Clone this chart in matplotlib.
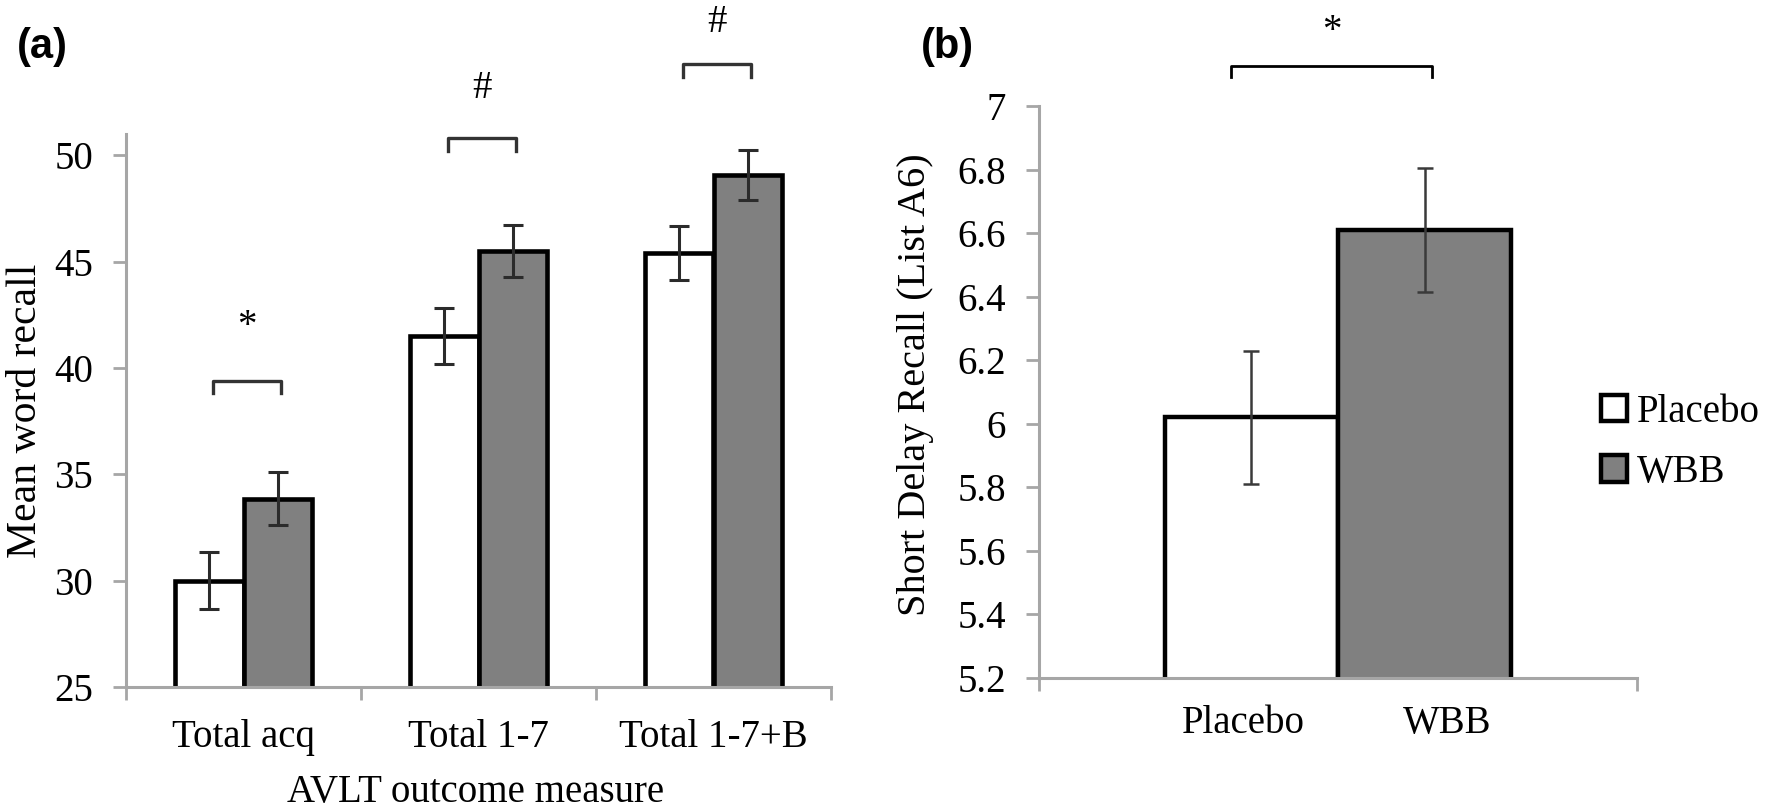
import matplotlib
matplotlib.use('Agg')
import matplotlib.pyplot as plt
import numpy as np
from matplotlib.patches import Patch

# ---------------- data ----------------
categories_a = ['Total acq', 'Total 1-7', 'Total 1-7+B']
placebo_a = [30.0, 41.5, 45.4]
placebo_a_err = [1.33, 1.3, 1.27]
wbb_a = [33.85, 45.5, 49.06]
wbb_a_err = [1.25, 1.21, 1.18]
sig_a = ['*', '#', '#']
bracket_a = [39.4, 50.8, 54.3]
sig_text_a = [41.5, 52.7, 55.8]
yticks_a = [25, 30, 35, 40, 45, 50]

groups_b = ['Placebo', 'WBB']
values_b = [6.02, 6.61]
errors_b = [0.21, 0.195]
sig_b = '*'
bracket_b = 7.125
sig_text_b = 7.205
yticks_b = [5.2, 5.4, 5.6, 5.8, 6.0, 6.2, 6.4, 6.6, 6.8, 7.0]
ytick_labels_b = ['5.2', '5.4', '5.6', '5.8', '6', '6.2', '6.4', '6.6', '6.8', '7']

# ---------------- style ----------------
SERIF = ['Liberation Serif', 'DejaVu Serif']
FS = 28
AXC = '#a6a6a6'
GREY = '#808080'
W, H = 1772, 808

plt.rcParams['font.family'] = SERIF
fig = plt.figure(figsize=(W / 100, H / 100), dpi=100)

def style_axes(ax):
    for s in ['top', 'right']:
        ax.spines[s].set_visible(False)
    for s in ['left', 'bottom']:
        ax.spines[s].set_color(AXC)
        ax.spines[s].set_linewidth(2.2)
    ax.tick_params(axis='both', which='major', direction='out', length=9.4,
                   width=2.0, color=AXC, labelsize=FS, pad=14.4)
    ax.tick_params(axis='x', which='minor', length=0, labelsize=FS)

# ---------------- panel (a) ----------------
ax = fig.add_axes([126 / W, 1 - 687 / H, 705 / W, 553 / H])
style_axes(ax)
bw = 0.29
xa = np.arange(len(categories_a))
ax.bar(xa - bw / 2, placebo_a, bw, color='white', edgecolor='black', linewidth=3.3, zorder=2)
ax.bar(xa + bw / 2, wbb_a, bw, color=GREY, edgecolor='black', linewidth=3.3, zorder=2)
ax.errorbar(xa - bw / 2, placebo_a, yerr=placebo_a_err, fmt='none', ecolor='#2b2b2b',
            elinewidth=2.2, capsize=7.2, capthick=2.2, zorder=3)
ax.errorbar(xa + bw / 2, wbb_a, yerr=wbb_a_err, fmt='none', ecolor='#2b2b2b',
            elinewidth=2.2, capsize=7.2, capthick=2.2, zorder=3)
ax.set_xlim(-0.5, len(categories_a) - 0.5)
ax.set_ylim(25, 51)
ax.set_yticks(yticks_a)
ax.set_yticklabels([str(v) for v in yticks_a])
ax.set_xticks(np.arange(len(categories_a) + 1) - 0.5)
ax.set_xticklabels([])
ax.set_xticks(xa, minor=True)
ax.set_xticklabels(categories_a, minor=True)
ax.tick_params(axis='x', which='minor', pad=23)

for i in range(len(categories_a)):
    x1 = xa[i] - bw / 2 + 0.017
    x2 = xa[i] + bw / 2 + 0.015
    yb = bracket_a[i]
    ax.plot([x1, x1, x2, x2], [yb - 0.6, yb, yb, yb - 0.6], color='#333333',
            lw=2.4, clip_on=False, solid_joinstyle='round', zorder=4)
    ax.text((x1 + x2) / 2, sig_text_a[i], sig_a[i], ha='center', va='baseline',
            fontsize=FS, clip_on=False)

fig.text(476 / W, 1 - 802 / H, 'AVLT outcome measure', ha='center', va='baseline', fontsize=FS)
fig.text(26 / W, 1 - 411 / H, 'Mean word recall', ha='center', va='center',
         rotation=90, fontsize=FS + 2)
fig.text(17 / W, 1 - 47 / H, '(a)', ha='left', va='center', fontsize=30,
         fontweight='bold', family='Liberation Sans')

# ---------------- panel (b) ----------------
bx = fig.add_axes([1039 / W, 1 - 678 / H, 598 / W, 572 / H])
style_axes(bx)
xb = np.array([-bw / 2, bw / 2])
bx.bar(xb, values_b, bw, color=['white', GREY], edgecolor='black', linewidth=3.2, zorder=2)
bx.errorbar(xb, values_b, yerr=errors_b, fmt='none', ecolor='#3a3a3a',
            elinewidth=1.8, capsize=5.8, capthick=1.8, zorder=3)
bx.set_xlim(-0.5, 0.5)
bx.set_ylim(5.2, 7.0)
bx.set_yticks(yticks_b)
bx.set_yticklabels(ytick_labels_b)
bx.set_xticks([-0.5, 0.5])
bx.set_xticklabels([])
bx.set_xticks(xb + np.array([-0.013, 0.037]), minor=True)
bx.set_xticklabels(groups_b, minor=True)
bx.tick_params(axis='x', which='minor', pad=19.4)

x1 = xb[0] - 0.034
x2 = xb[1] + 0.012
bx.plot([x1, x1, x2, x2], [bracket_b - 0.035, bracket_b, bracket_b, bracket_b - 0.035],
        color='black', lw=2.0, clip_on=False, zorder=4)
bx.text((x1 + x2) / 2, sig_text_b, sig_b, ha='center', va='baseline', fontsize=FS, clip_on=False)

fig.text(915 / W, 1 - 385 / H, 'Short Delay Recall (List A6)', ha='center', va='center',
         rotation=90, fontsize=FS + 1)
fig.text(921 / W, 1 - 47 / H, '(b)', ha='left', va='center', fontsize=30,
         fontweight='bold', family='Liberation Sans')

handles = [Patch(facecolor='white', edgecolor='black', linewidth=3.2),
           Patch(facecolor=GREY, edgecolor='black', linewidth=3.2)]
fig.legend(handles, groups_b, loc='center left', bbox_to_anchor=(1601 / W, 1 - 442.5 / H),
           bbox_transform=fig.transFigure, frameon=False, fontsize=FS,
           handlelength=0.67, handleheight=0.67, handletextpad=0.25,
           labelspacing=0.6, borderpad=0, borderaxespad=0)

fig.savefig('out.png', dpi=100)
